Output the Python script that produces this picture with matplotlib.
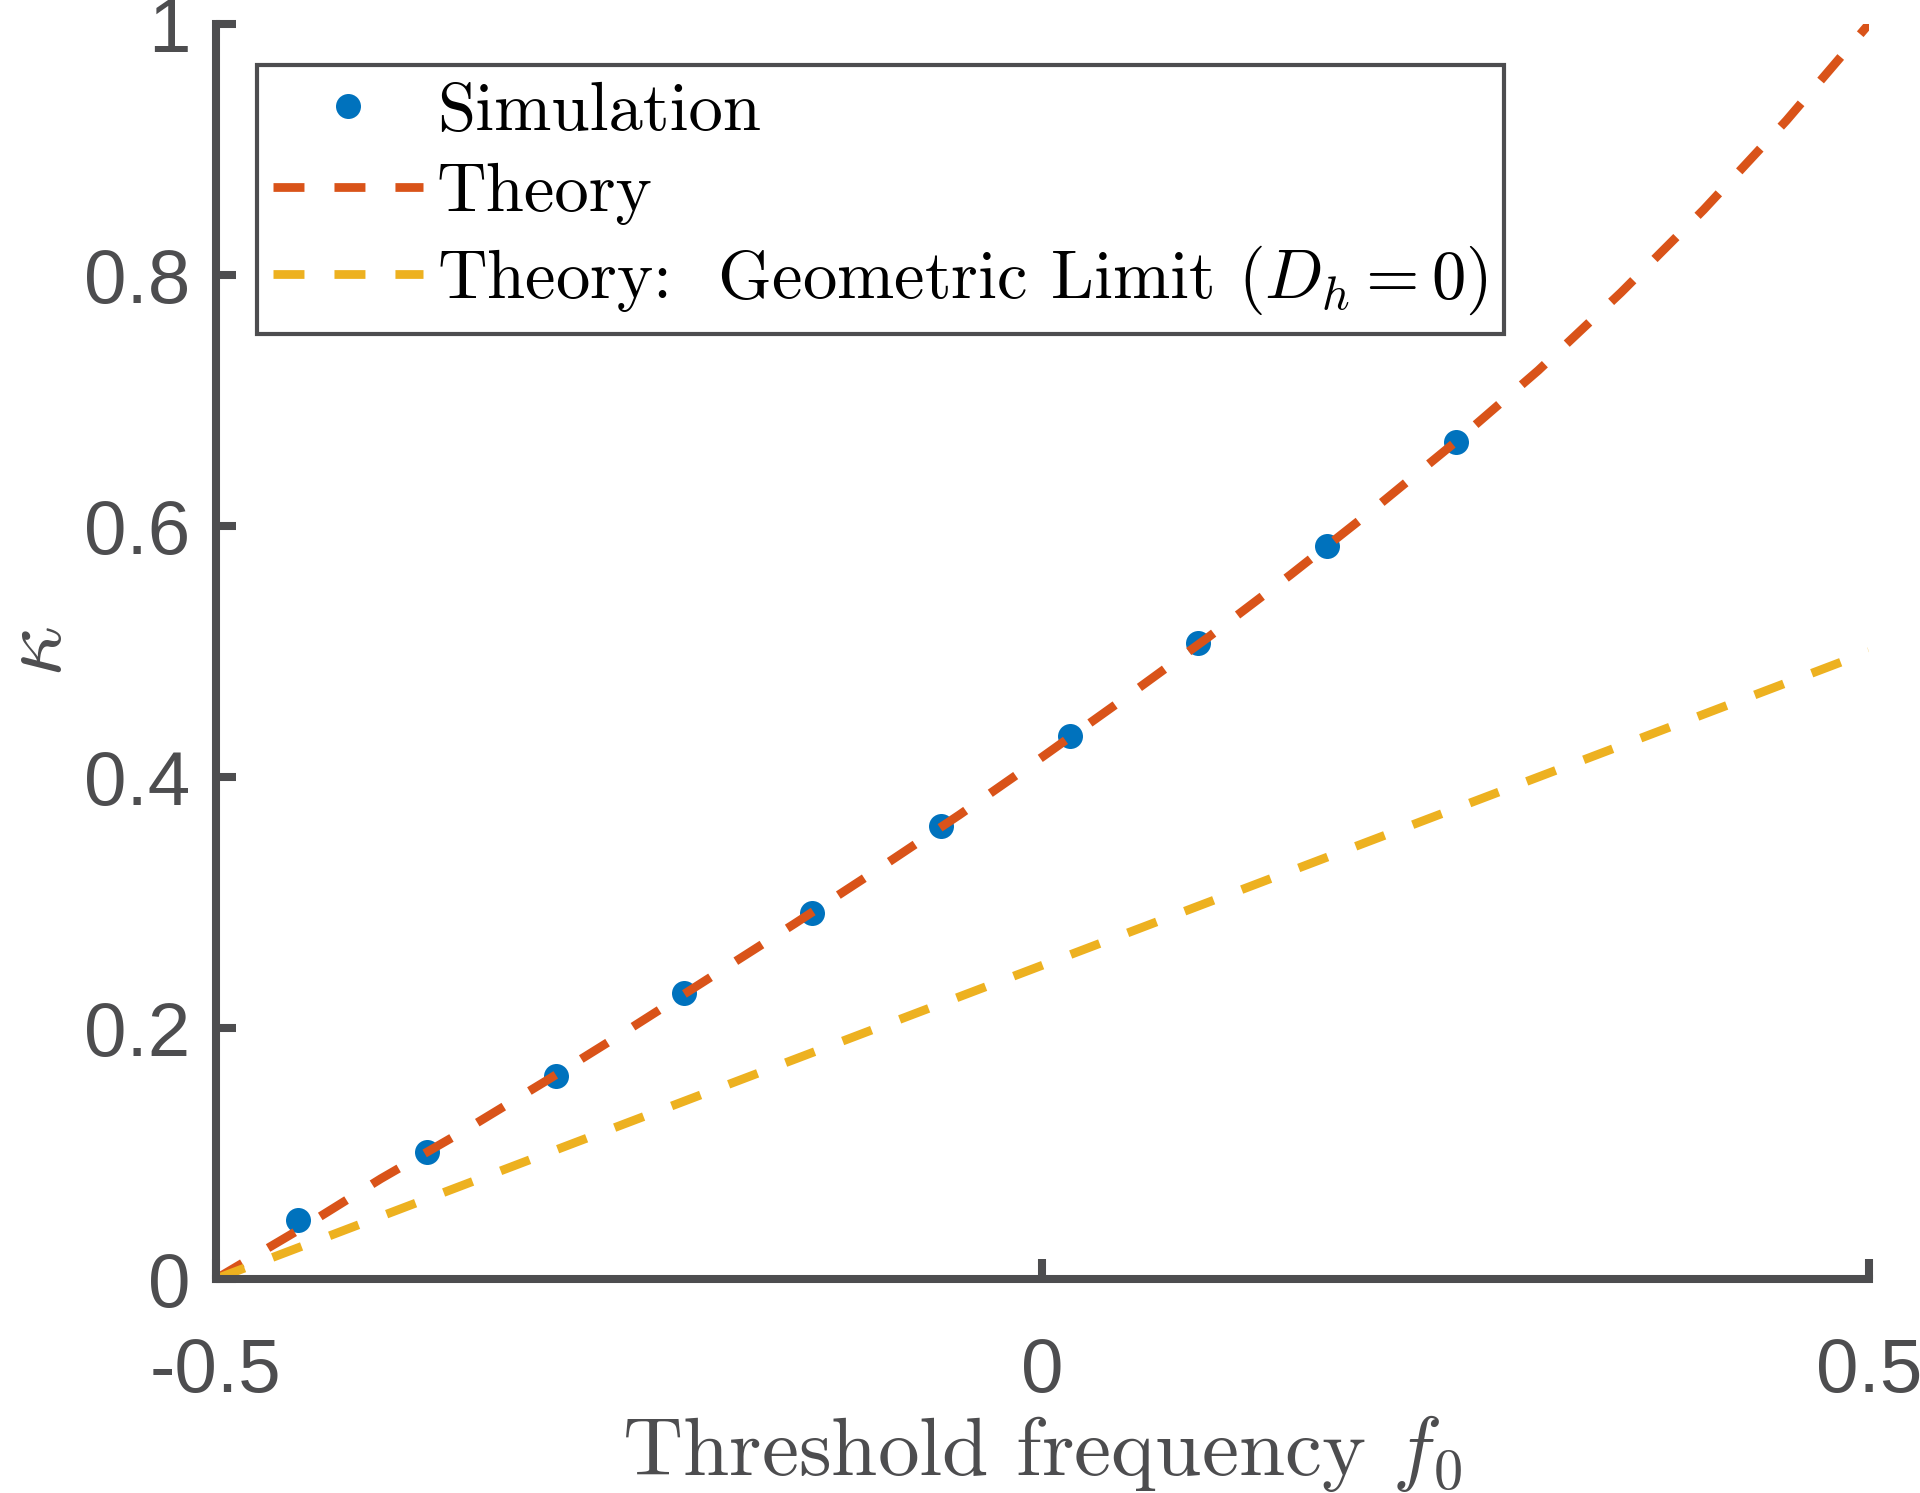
import numpy as np
import matplotlib
matplotlib.use("Agg")
import matplotlib.pyplot as plt

plt.rcParams['mathtext.fontset'] = 'cm'
plt.rcParams['axes.unicode_minus'] = False
plt.rcParams['lines.scale_dashes'] = False

# simulation points
sim_f0 = [-0.45, -0.372, -0.294, -0.217, -0.139, -0.061, 0.017, 0.094, 0.172, 0.25]
sim_kappa = [0.047, 0.101, 0.162, 0.228, 0.292, 0.361, 0.433, 0.507, 0.584, 0.667]

# theory curves
theory_f0 = [-0.5, -0.45, -0.4, -0.35, -0.3, -0.25, -0.2, -0.15, -0.1, -0.05, 0.0,
             0.05, 0.1, 0.15, 0.2, 0.25, 0.3, 0.35, 0.4, 0.45, 0.5]
theory_kappa = [0.0, 0.039, 0.080, 0.118, 0.158, 0.199, 0.241, 0.283, 0.326, 0.370, 0.416,
                0.463, 0.511, 0.561, 0.613, 0.667, 0.724, 0.786, 0.852, 0.923, 1.0]
geo_f0 = [-0.5, 0.5]
geo_kappa = [0.0, 0.5]

xticks = [-0.5, 0, 0.5]
xtick_labels = ['-0.5', '0', '0.5']
yticks = [0, 0.2, 0.4, 0.6, 0.8, 1.0]
ytick_labels = ['0', '0.2', '0.4', '0.6', '0.8', '1']

gray = '#4d4d4f'
blue, orange, yellow = '#0072BD', '#D95319', '#EDB120'
dash = (0, (22.3, 21.6))

fig = plt.figure(figsize=(19.2, 14.93), dpi=100)
ax = fig.add_axes([0.1123, 0.1433, 0.8611, 0.8406])

ax.plot(sim_f0, sim_kappa, 'o', color=blue, markersize=18, markeredgewidth=0,
        label='Simulation')
ax.plot(theory_f0, theory_kappa, color=orange, lw=6.3, linestyle=dash, label='Theory')
ax.plot(geo_f0, geo_kappa, color=yellow, lw=6.3, linestyle=dash,
        label=r'Theory:  Geometric Limit $(D_h = 0)$')

ax.set_xlim(-0.5, 0.5)
ax.set_ylim(0, 1)
ax.set_xticks(xticks)
ax.set_xticklabels(xtick_labels, family='Liberation Sans')
ax.set_yticks(yticks)
ax.set_yticklabels(ytick_labels, family='Liberation Sans')

for s in ['top', 'right']:
    ax.spines[s].set_visible(False)
for s in ['left', 'bottom']:
    ax.spines[s].set_linewidth(5.8)
    ax.spines[s].set_color(gray)

ax.tick_params(direction='in', length=14.4, width=5.8, color=gray, labelcolor=gray,
               labelsize=55)
ax.tick_params(axis='y', pad=18)
ax.tick_params(axis='x', pad=42)

ax.set_xlabel(r'Threshold frequency $f_0$', family='cmr10', fontsize=60, color=gray)
ax.xaxis.set_label_coords(0.5, -0.107)
ax.set_ylabel(r'$\kappa$', fontsize=64, color=gray)
ax.yaxis.set_label_coords(-0.082, 0.5)

leg = ax.legend(loc='upper left', bbox_to_anchor=(0.0248, 0.967), borderaxespad=0,
                prop={'family': 'cmr10', 'size': 49.5}, handlelength=2.18,
                handletextpad=0.2, borderpad=0.24, labelspacing=0.28,
                fancybox=False, framealpha=1)
leg.get_frame().set_edgecolor(gray)
leg.get_frame().set_linewidth(3)

fig.savefig('out.png', dpi=100)
